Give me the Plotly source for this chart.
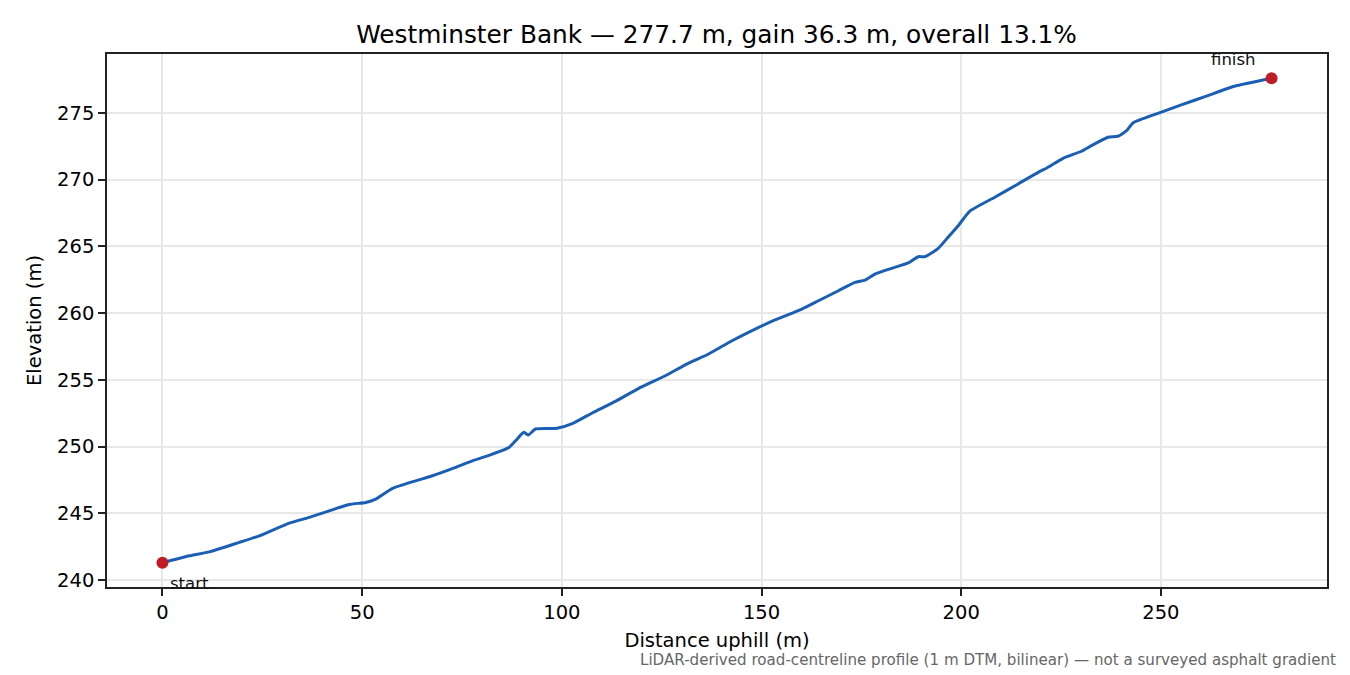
import plotly.graph_objects as go

# Distance uphill (m) and elevation (m)
dist = [0, 6.75, 11.75, 19.25, 24.25, 31.75, 36.75, 41.75, 46.75, 50.9, 53.4, 57.6,
        63.4, 67.6, 73.4, 77.6, 82.6, 86.75, 88.4, 90.5, 91.6, 93.4, 98.8, 102.6,
        107.6, 113.4, 119.25, 125.9, 131.75, 136.75, 142.6, 148.4, 153.4, 160.1,
        164.25, 169.25, 173.4, 175.9, 178.4, 182.6, 186.75, 189.25, 190.9, 194.25,
        196.75, 199.25, 202.1, 208.4, 214.25, 219.25, 221.75, 225.5, 230.1, 232.6,
        236.75, 239.25, 241.4, 243.0, 249.25, 255.1, 261.75, 268.4, 277.7]
elev = [241.3, 241.82, 242.12, 242.83, 243.32, 244.27, 244.7, 245.19, 245.67, 245.82,
        246.07, 246.87, 247.44, 247.82, 248.45, 248.94, 249.44, 249.94, 250.44, 251.07,
        250.87, 251.32, 251.37, 251.72, 252.52, 253.39, 254.37, 255.31, 256.26, 256.94,
        257.93, 258.81, 259.49, 260.31, 260.93, 261.68, 262.31, 262.48, 262.93, 263.36,
        263.76, 264.23, 264.23, 264.86, 265.7, 266.55, 267.63, 268.68, 269.68, 270.55,
        270.93, 271.6, 272.13, 272.55, 273.18, 273.25, 273.67, 274.25, 274.97, 275.6,
        276.3, 277.0, 277.6]

x_ticks = [0, 50, 100, 150, 200, 250]
y_ticks = [240, 245, 250, 255, 260, 265, 270, 275]

title_text = "Westminster Bank — 277.7 m, gain 36.3 m, overall 13.1%"
x_label = "Distance uphill (m)"
y_label = "Elevation (m)"
footnote = "LiDAR-derived road-centreline profile (1 m DTM, bilinear) — not a surveyed asphalt gradient"

FONT = "DejaVu Sans"
BLUE = "#1a5fb4"
RED = "#c01c28"

# page body has an 8px margin; size the figure to fit the window exactly
W, H = 1342, 667

fig = go.Figure()
fig.add_trace(go.Scatter(x=dist, y=elev, mode="lines",
                         line=dict(color=BLUE, width=3, shape="spline", smoothing=0.5),
                         hoverinfo="skip", showlegend=False))
fig.add_trace(go.Scatter(x=[dist[0], dist[-1]], y=[elev[0], elev[-1]], mode="markers",
                         marker=dict(color=RED, size=12),
                         showlegend=False))

xmin, xmax = min(dist), max(dist)
ymin, ymax = min(elev), max(elev)
xpad = (xmax - xmin) * 0.05
ypad = (ymax - ymin) * 0.05

axis_common = dict(showline=True, linecolor="#222222", linewidth=1.5, mirror=True,
                   ticks="outside", ticklen=7, tickwidth=1.5, tickcolor="#222222",
                   showgrid=True, gridcolor="#e8e8e8", gridwidth=1.5, zeroline=False,
                   tickfont=dict(family=FONT, size=19.5, color="#000000"))

fig.update_xaxes(range=[xmin - xpad, xmax + xpad], tickvals=x_ticks,
                 title=dict(text=x_label, font=dict(family=FONT, size=19.5, color="#000"), standoff=10),
                 **axis_common)
fig.update_yaxes(range=[ymin - ypad, ymax + ypad], tickvals=y_ticks,
                 title=dict(text=y_label, font=dict(family=FONT, size=19.5, color="#000"), standoff=10),
                 **axis_common)

fig.add_annotation(x=dist[0], y=elev[0], text="start", showarrow=False,
                   xanchor="left", yanchor="top", xshift=6, yshift=-9,
                   font=dict(family=FONT, size=16.5, color="#111"))
fig.add_annotation(x=dist[-1], y=elev[-1], text="finish", showarrow=False,
                   xanchor="right", yanchor="bottom", xshift=-14, yshift=7,
                   font=dict(family=FONT, size=16.5, color="#111"))
fig.add_annotation(xref="paper", yref="paper", x=1.0091, y=-0.137, text=footnote,
                   showarrow=False, xanchor="right", yanchor="middle",
                   font=dict(family=FONT, size=15.1, color="#666666"))

fig.update_layout(
    width=W, height=H,
    margin=dict(l=99, r=23, t=46, b=88),
    paper_bgcolor="white", plot_bgcolor="white",
    title=dict(text=title_text, x=0.528, xanchor="center", y=1 - 26 / H,
               yanchor="middle", font=dict(family=FONT, size=24.8, color="#000")),
    font=dict(family=FONT),
)

fig.write_html("out.html")
